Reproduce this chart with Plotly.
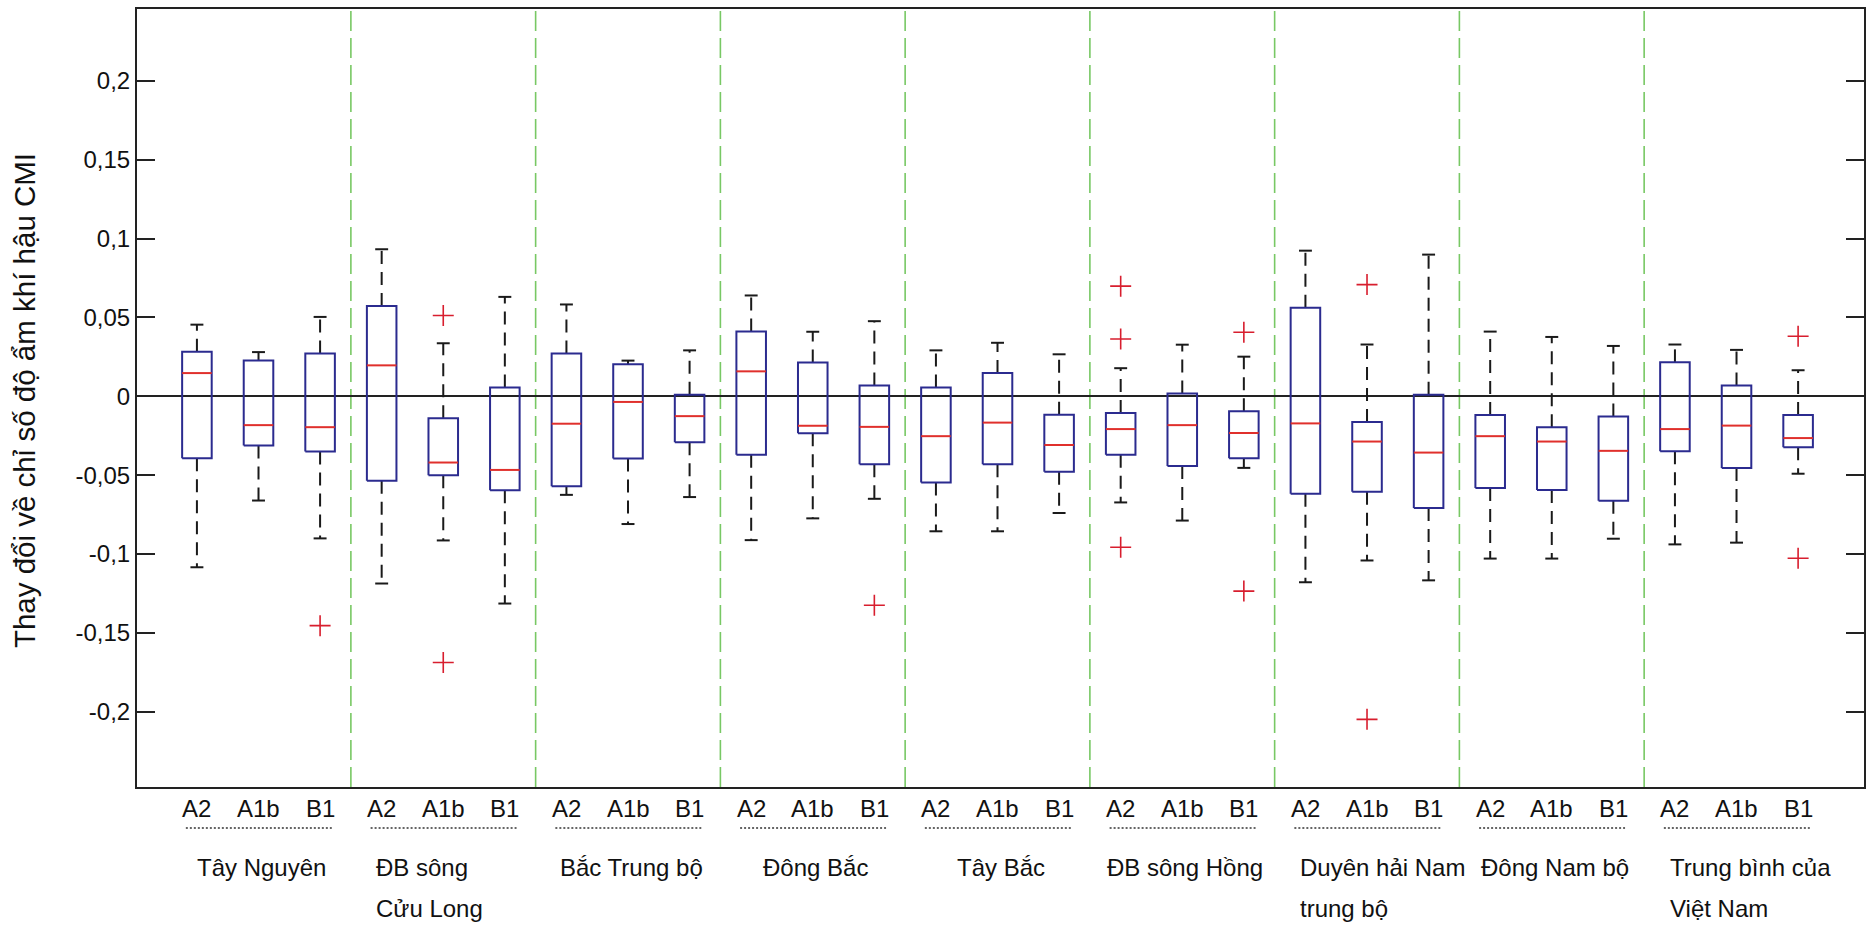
import plotly.graph_objects as go

# Regions (group labels, "\n" marks a line break) and emission scenarios
regions = [
    "Tây Nguyên",
    "ĐB sông\nCửu Long",
    "Bắc Trung bộ",
    "Đông Bắc",
    "Tây Bắc",
    "ĐB sông Hồng",
    "Duyên hải Nam\ntrung bộ",
    "Đông Nam bộ",
    "Trung bình của\nViệt Nam",
]
scenarios = ["A2", "A1b", "B1"]

# Box statistics, ordered region by region, A2 / A1b / B1 inside each region
whisker_high = [0.0454, 0.0280, 0.0503,  0.0932, 0.0336, 0.0630,  0.0582, 0.0226, 0.0291,
                0.0639, 0.0409, 0.0476,  0.0291, 0.0339, 0.0266,  0.0178, 0.0327, 0.0251,
                0.0923, 0.0328, 0.0898,  0.0410, 0.0376, 0.0319,  0.0328, 0.0294, 0.0165]
q3 = [0.0282, 0.0226, 0.0271,  0.0573, -0.0140, 0.0056,  0.0271, 0.0203, 0.0009,
      0.0411, 0.0214, 0.0068,  0.0056, 0.0147, -0.0117,  -0.0106, 0.0018, -0.0095,
      0.0561, -0.0163, 0.0009,  -0.0118, -0.0197, -0.0129,  0.0215, 0.0068, -0.0118]
median = [0.0147, -0.0183, -0.0196,  0.0196, -0.0420, -0.0467,  -0.0174, -0.0036, -0.0126,
          0.0158, -0.0187, -0.0194,  -0.0253, -0.0167, -0.0309,  -0.0208, -0.0183, -0.0233,
          -0.0172, -0.0287, -0.0357,  -0.0253, -0.0287, -0.0346,  -0.0208, -0.0186, -0.0265]
q1 = [-0.0393, -0.0312, -0.0350,  -0.0535, -0.0501, -0.0596,  -0.0571, -0.0395, -0.0291,
      -0.0370, -0.0235, -0.0431,  -0.0546, -0.0431, -0.0479,  -0.0370, -0.0442, -0.0393,
      -0.0618, -0.0606, -0.0708,  -0.0581, -0.0595, -0.0663,  -0.0348, -0.0455, -0.0324]
whisker_low = [-0.1084, -0.0661, -0.0901,  -0.1187, -0.0914, -0.1314,  -0.0625, -0.0810, -0.0639,
               -0.0912, -0.0774, -0.0650,  -0.0856, -0.0856, -0.0740,  -0.0673, -0.0788, -0.0454,
               -0.1179, -0.1041, -0.1167,  -0.1029, -0.1029, -0.0903,  -0.0939, -0.0928, -0.0491]
outliers = [[], [], [-0.1454],  [], [0.0512, -0.1688], [],  [], [], [],
            [], [], [-0.1325],  [], [], [],  [0.0698, 0.0363, -0.0957], [], [0.0406, -0.1235],
            [], [0.0708, -0.2048], [],  [], [], [],  [], [], [0.0380, -0.1027]]

y_tick_vals = [-0.2, -0.15, -0.1, -0.05, 0, 0.05, 0.1, 0.15, 0.2]
y_tick_text = ["-0,2", "-0,15", "-0,1", "-0,05", "0", "0,05", "0,1", "0,15", "0,2"]
y_title = "Thay đổi về chỉ số độ ẩm khí hậu CMI"

# ---- geometry / style ----
W, H = 1868, 926
ML, MR, MT, MB = 137, 2, 9, 139
PLOT_H = H - MT - MB
HALF_BOX = 0.24
HALF_CAP = 0.105
BOX_COLOR = "#2b2b8f"
MED_COLOR = "#e0302c"
OUT_COLOR = "#d81e2e"
WHISK_COLOR = "#1a1a1a"
DIV_COLOR = "rgb(120,200,100)"
FONT = "Arial, 'Liberation Sans', sans-serif"

n_sc = len(scenarios)
positions = [g * n_sc + s + 1 for g in range(len(regions)) for s in range(n_sc)]

wx, wy, cx, cy, bx, by, mx, my, ox, oy = ([] for _ in range(10))
for i, p in enumerate(positions):
    wx += [p, p, None, p, p, None]
    wy += [q3[i], whisker_high[i], None, q1[i], whisker_low[i], None]
    cx += [p - HALF_CAP, p + HALF_CAP, None, p - HALF_CAP, p + HALF_CAP, None]
    cy += [whisker_high[i], whisker_high[i], None, whisker_low[i], whisker_low[i], None]
    bx += [p - HALF_BOX, p + HALF_BOX, p + HALF_BOX, p - HALF_BOX, p - HALF_BOX, None]
    by += [q1[i], q1[i], q3[i], q3[i], q1[i], None]
    mx += [p - HALF_BOX, p + HALF_BOX, None]
    my += [median[i], median[i], None]
    for v in outliers[i]:
        ox.append(p)
        oy.append(v)

fig = go.Figure()
fig.add_trace(go.Scatter(x=wx, y=wy, mode="lines", hoverinfo="skip",
                         line=dict(color=WHISK_COLOR, width=2, dash="13px,8px")))
fig.add_trace(go.Scatter(x=cx, y=cy, mode="lines", hoverinfo="skip",
                         line=dict(color=WHISK_COLOR, width=2)))
fig.add_trace(go.Scatter(x=bx, y=by, mode="lines", hoverinfo="skip",
                         line=dict(color=BOX_COLOR, width=2)))
fig.add_trace(go.Scatter(x=mx, y=my, mode="lines", hoverinfo="skip",
                         line=dict(color=MED_COLOR, width=2)))
fig.add_trace(go.Scatter(x=ox, y=oy, mode="markers", hoverinfo="skip",
                         marker=dict(symbol="cross-thin", size=15,
                                     line=dict(color=OUT_COLOR, width=1.6))))

shapes = []
annotations = []

# dashed separators between regions
for g in range(1, len(regions)):
    xd = g * n_sc + 0.5
    shapes.append(dict(type="line", xref="x", yref="paper", x0=xd, x1=xd, y0=0, y1=1,
                       line=dict(color=DIV_COLOR, width=1.6, dash="20px,7px"), layer="below"))


def px_to_paper(py):
    return (H - MB - py) / PLOT_H


# scenario labels, underline and region names below the axis
for g, name in enumerate(regions):
    first = g * n_sc + 1
    last = g * n_sc + n_sc
    for s, sc in enumerate(scenarios):
        annotations.append(dict(text=sc, x=first + s, xref="x", y=0, yref="paper",
                                yanchor="middle", yshift=-21, showarrow=False,
                                font=dict(family=FONT, size=24, color="#111")))
    shapes.append(dict(type="line", xref="x", yref="paper",
                       x0=first - 0.18, x1=last + 0.19,
                       y0=px_to_paper(828), y1=px_to_paper(828),
                       line=dict(color="#333", width=1.5, dash="2px,2px")))
    lines = name.split("\n")
    for k, ln in enumerate(lines):
        if len(lines) == 1:
            ann = dict(x=first + 1.05, xanchor="center")
        else:
            ann = dict(x=first - 0.12, xanchor="left")
        ann.update(text=ln, xref="x", y=0, yref="paper", yanchor="middle",
                   yshift=-(80 + 41 * k), showarrow=False,
                   font=dict(family=FONT, size=24, color="#111"))
        annotations.append(ann)

annotations.append(dict(text=y_title, textangle=-90, x=0, xref="paper", xanchor="center",
                        xshift=-113, y=0.496, yref="paper", yanchor="middle", showarrow=False,
                        font=dict(family=FONT, size=29.5, color="#111")))

fig.update_layout(
    width=W, height=H,
    margin=dict(l=ML, r=MR, t=MT, b=MB, pad=0),
    paper_bgcolor="white", plot_bgcolor="white",
    showlegend=False,
    shapes=shapes,
    annotations=annotations,
    xaxis=dict(range=[0.027, 28.07], showgrid=False, zeroline=False,
               showticklabels=False, ticks="",
               showline=True, linecolor="#222", linewidth=2, mirror=True),
    yaxis=dict(range=[-0.2477, 0.2455], tickvals=y_tick_vals, ticktext=y_tick_text,
               ticks="inside", ticklen=18, tickwidth=2, tickcolor="#222",
               showgrid=False, zeroline=True, zerolinecolor="#222", zerolinewidth=2,
               showline=True, linecolor="#222", linewidth=2, mirror="ticks",
               tickfont=dict(family=FONT, size=24, color="#111")),
)

fig.write_html("out.html")
